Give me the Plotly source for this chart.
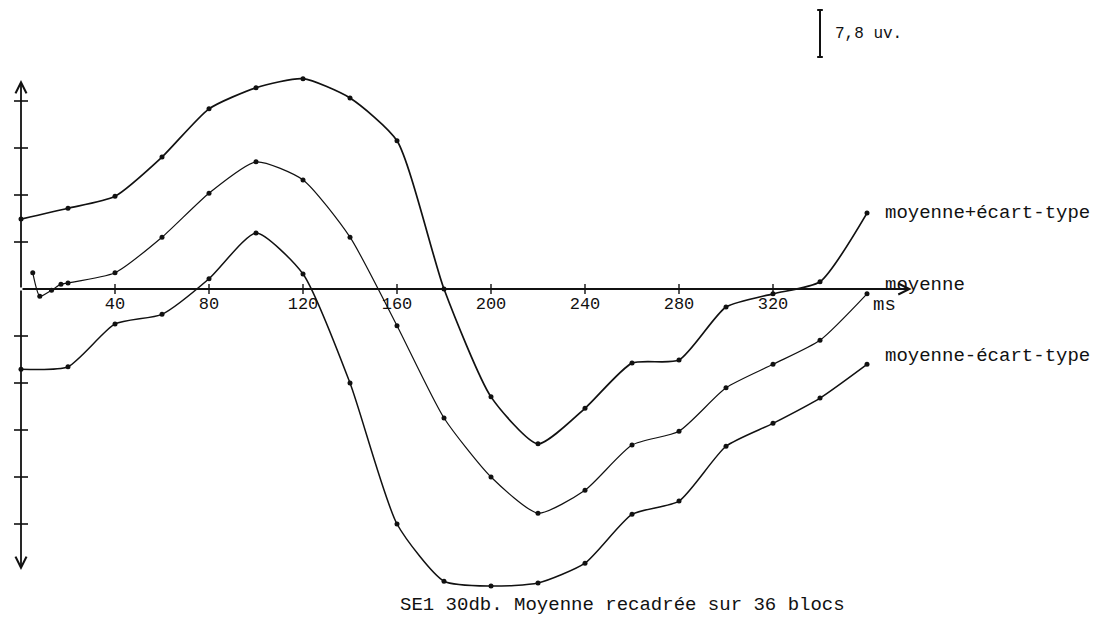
"""Moyenne +/- ecart-type, SE1 30db (scanned plotter chart)."""

import plotly.graph_objects as go

# time in ms, amplitude in uV (7.8 uV per axis tick)
t_std = [0, 20, 40, 60, 80, 100, 120, 140, 160, 180, 200, 220, 240, 260, 280, 300, 320, 340, 360]
plus_sd = [11.6, 13.4, 15.4, 21.9, 29.9, 33.4, 34.9, 31.7, 24.6, 0.0, -17.9, -25.7,
           -19.8, -12.3, -11.8, -3.0, -0.8, 1.2, 12.6]
minus_sd = [-13.3, -12.9, -5.8, -4.2, 1.7, 9.3, 2.5, -15.6, -39.0, -48.5, -49.3, -48.8,
            -45.5, -37.4, -35.2, -26.1, -22.3, -18.1, -12.5]

t_mean = [5, 8, 13, 17, 20, 40, 60, 80, 100, 120, 140, 160, 180, 200, 220, 240, 260,
          280, 300, 320, 340, 360]
mean = [2.7, -1.2, -0.2, 0.8, 1.0, 2.7, 8.6, 15.9, 21.1, 18.1, 8.6, -6.1, -21.4, -31.2,
        -37.2, -33.4, -25.9, -23.6, -16.4, -12.5, -8.5, -0.8]

x_ticks = [40, 80, 120, 160, 200, 240, 280, 320]
y_ticks = [-39.0, -31.2, -23.4, -15.6, -7.8, 7.8, 15.6, 23.4, 31.2]

series_labels = ["moyenne+écart-type", "moyenne", "moyenne-écart-type"]
title = "SE1 30db. Moyenne recadrée sur 36 blocs"
scale_label = "7,8 uv."
unit_label = "ms"

FONT = "Liberation Mono"
INK = "#111111"

# page body keeps its 8px margin, so the figure is 8px smaller on each side.
# origin at (13px, 281px) in figure pixels, 2.35 px/ms, 47 px per 7.8 uV
PX_MS = 2.35
PX_UV = 47 / 7.8
W, H = 1096, 610
X0, Y0 = 13, 281
x_range = [-X0 / PX_MS, (W - X0) / PX_MS]
y_range = [-(H - Y0) / PX_UV, Y0 / PX_UV]

fig = go.Figure()

for xs, ys, width in [(t_std, plus_sd, 1.7), (t_mean, mean, 1.2), (t_std, minus_sd, 1.5)]:
    fig.add_trace(go.Scatter(
        x=xs, y=ys, mode="lines+markers",
        line={"color": INK, "width": width, "shape": "spline", "smoothing": 0.6},
        marker={"color": INK, "size": 5},
        showlegend=False, hoverinfo="skip",
    ))

# tick crosses on both axes
fig.add_trace(go.Scatter(
    x=[0] * len(y_ticks), y=y_ticks, mode="markers",
    marker={"symbol": "line-ew-open", "size": 10, "color": INK,
            "line": {"color": INK, "width": 1.6}},
    showlegend=False, hoverinfo="skip",
))
fig.add_trace(go.Scatter(
    x=x_ticks, y=[0] * len(x_ticks), mode="markers",
    marker={"symbol": "line-ns-open", "size": 7, "color": INK,
            "line": {"color": INK, "width": 1.4}},
    showlegend=False, hoverinfo="skip",
))

arrow = {"text": "", "showarrow": True, "arrowhead": 5, "arrowsize": 1.2,
         "arrowwidth": 1.8, "arrowcolor": INK, "axref": "x", "ayref": "y"}
fig.add_annotation(x=379, y=0, ax=0, ay=0, **arrow)
fig.add_annotation(x=0, y=(Y0 - 72) / PX_UV, ax=0, ay=0, **arrow)
fig.add_annotation(x=0, y=-(562 - Y0) / PX_UV, ax=0, ay=0, **arrow)

# scale bar: 7.8 uV
bar_x, bar_top = 340, (Y0 - 2) / PX_UV
fig.add_shape(type="line", x0=bar_x, x1=bar_x, y0=bar_top, y1=bar_top - 7.8,
              line={"color": INK, "width": 2})
for yy in (bar_top, bar_top - 7.8):
    fig.add_shape(type="line", x0=bar_x - 1.2, x1=bar_x + 1.2, y0=yy, y1=yy,
                  line={"color": INK, "width": 2})

text = {"showarrow": False, "xanchor": "left", "yanchor": "middle",
        "font": {"family": FONT, "size": 19, "color": INK}}
fig.add_annotation(x=345.5, y=bar_top - 3.9, text=scale_label,
                   **(text | {"font": {"family": FONT, "size": 16, "color": INK}}))
fig.add_annotation(x=366.8, y=12.6, text=series_labels[0], **text)
fig.add_annotation(x=366.8, y=0.6, text=series_labels[1], **text)
fig.add_annotation(x=361.5, y=-2.6, text=unit_label, **text)
fig.add_annotation(x=366.8, y=-11.1, text=series_labels[2], **text)
fig.add_annotation(x=160.4, y=-52.4, text=title, **text)

fig.update_layout(
    width=W, height=H, autosize=False,
    margin={"l": 0, "r": 0, "t": 0, "b": 0, "pad": 0},
    paper_bgcolor="white", plot_bgcolor="white",
    xaxis={"range": x_range, "showgrid": False, "zeroline": False, "showline": False,
           "anchor": "free", "position": 1 - Y0 / H,
           "tickvals": x_ticks, "ticks": "", "ticklabelstandoff": 2,
           "tickfont": {"family": FONT, "size": 17, "color": INK}},
    yaxis={"range": y_range, "showgrid": False, "zeroline": False, "showline": False,
           "showticklabels": False, "ticks": ""},
)

fig.write_html("out.html")
